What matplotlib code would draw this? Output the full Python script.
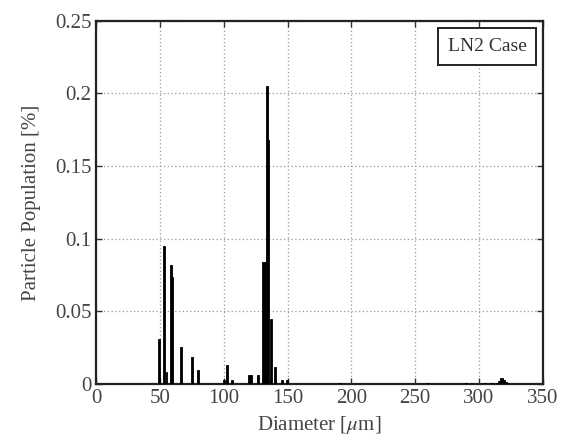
import matplotlib.pyplot as plt
import numpy as np

plt.rcParams["font.family"] = ["Liberation Serif", "DejaVu Serif"]
plt.rcParams["mathtext.fontset"] = "stix"

# bin centres (um) and population (%)
diameter = [49.2, 53.1, 55.0, 58.3, 59.5, 66.4, 75.0, 79.7,
            100.0, 102.4, 106.7,
            119.5, 121.5, 126.9,
            130.8, 132.3, 133.6, 135.0, 136.6, 140.0,
            145.6, 149.6,
            160, 175, 190, 205, 215, 230, 240, 260, 280, 290, 305, 310,
            314.0, 315.5, 317.0, 318.5, 320.0, 321.5, 323.0]
population = [0.031, 0.095, 0.008, 0.082, 0.0735, 0.0257, 0.0184, 0.0096,
              0.003, 0.013, 0.003,
              0.006, 0.0065, 0.006,
              0.084, 0.084, 0.205, 0.168, 0.045, 0.012,
              0.003, 0.003,
              0.0004, 0.0003, 0.0005, 0.0004, 0.0003, 0.0004, 0.0003,
              0.0005, 0.0004, 0.0006, 0.0005, 0.0007,
              0.001, 0.002, 0.004, 0.0045, 0.003, 0.0015, 0.0005]

x_ticks = [0, 50, 100, 150, 200, 250, 300, 350]
y_ticks = [0, 0.05, 0.1, 0.15, 0.2, 0.25]
y_labels = ["0", "0.05", "0.1", "0.15", "0.2", "0.25"]

fig = plt.figure(figsize=(5.67, 4.42), dpi=100)
ax = fig.add_axes([0.170, 0.131, 0.787, 0.822])

ax.bar(diameter, population, width=1.5, color="black", edgecolor="black",
       linewidth=0.6, zorder=3)

ax.set_xlim(0, 350)
ax.set_ylim(0, 0.25)
ax.set_xticks(x_ticks)
ax.set_yticks(y_ticks)
ax.set_yticklabels(y_labels)
ax.grid(True, linestyle=(0, (1, 2)), color="#999999", linewidth=0.9, zorder=0)
ax.tick_params(direction="in", top=True, right=True, length=4, width=1,
               labelsize=15, colors="#333333", labelcolor="#444444")
for s in ax.spines.values():
    s.set_linewidth(1.6)
    s.set_color("#222222")

ax.set_xlabel(r"Diameter [$\mu$m]", fontsize=15, color="#444444", labelpad=4)
ax.set_ylabel("Particle Population [%]", fontsize=15, color="#444444", labelpad=10)

ax.text(0.964, 0.952, "LN2 Case", transform=ax.transAxes, ha="right", va="top",
        fontsize=14, color="#333333", zorder=5,
        bbox=dict(boxstyle="square,pad=0.5", facecolor="white",
                  edgecolor="#222222", linewidth=1.4))

fig.savefig("out.png", dpi=100)
